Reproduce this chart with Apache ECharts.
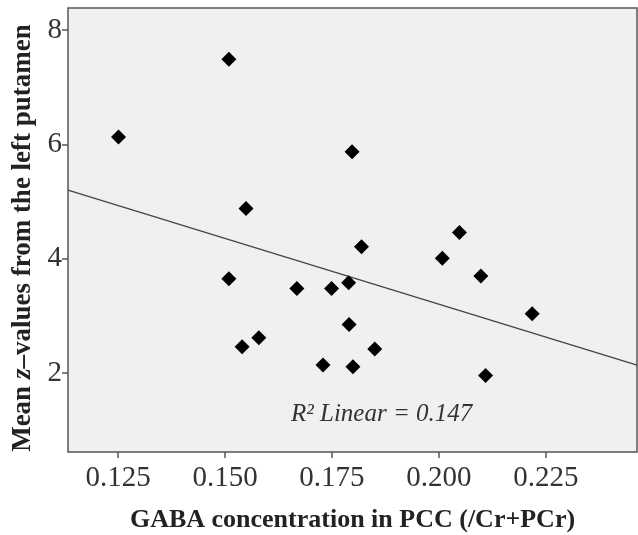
<!DOCTYPE html>
<html>
<head>
<meta charset="utf-8">
<script src="https://cdn.jsdelivr.net/npm/echarts@6/dist/echarts.min.js"></script>
<style>
  html, body { margin: 0; padding: 0; background: #fff; }
  #chart { width: 638px; height: 535px; }
</style>
</head>
<body>
<div id="chart"></div>
<script>
// GABA concentration (x) vs mean z-value (y)
const gaba = [0.1251, 0.1509, 0.1797, 0.1549, 0.1819, 0.2048, 0.2008, 0.2098, 0.1509, 0.1668,
              0.1749, 0.1789, 0.2218, 0.1790, 0.1540, 0.1579, 0.1850, 0.1729, 0.1799, 0.2109]
const zVals = [6.13, 7.49, 5.87, 4.88, 4.21, 4.46, 4.01, 3.70, 3.65, 3.48,
               3.48, 3.58, 3.04, 2.85, 2.46, 2.62, 2.42, 2.14, 2.11, 1.96]

// fit line end points (at the axis limits)
const fitX = [0.1133, 0.2463]
const fitY = [5.20, 2.14]

const xTicks = [0.125, 0.150, 0.175, 0.200, 0.225]
const yTicks = [2, 4, 6, 8]

const serif = '"Liberation Serif", "DejaVu Serif", serif'

const chart = echarts.init(document.getElementById('chart'))

chart.setOption({
  animation: false,
  grid: {
    left: 68, top: 8, right: 1, bottom: 83,
    outerBoundsMode: 'none',
    show: true,
    backgroundColor: '#f0f0f0',
    borderColor: '#555',
    borderWidth: 1.5
  },
  xAxis: {
    type: 'value',
    min: fitX[0],
    max: fitX[1],
    splitLine: { show: false },
    axisLine: { show: false },
    axisTick: { show: true, length: 6, lineStyle: { color: '#555', width: 1.5 }, customValues: xTicks },
    axisLabel: {
      customValues: xTicks,
      formatter: v => v.toFixed(3),
      color: '#333', fontFamily: serif, fontSize: 29, margin: 12
    },
    name: 'GABA concentration in PCC (/Cr+PCr)',
    nameLocation: 'middle',
    nameGap: 55,
    nameTextStyle: { color: '#222', fontFamily: serif, fontSize: 26, fontWeight: 'bold' }
  },
  yAxis: {
    type: 'value',
    min: 0.62,
    max: 8.385,
    splitLine: { show: false },
    axisLine: { show: false },
    axisTick: { show: true, length: 6, lineStyle: { color: '#555', width: 1.5 }, customValues: yTicks },
    axisLabel: {
      customValues: yTicks,
      color: '#333', fontFamily: serif, fontSize: 29, margin: 6
    },
    name: '{b|Mean }{i|z}{b|–values from the left putamen}',
    nameLocation: 'middle',
    nameGap: 31,
    nameRotate: 90,
    nameTextStyle: {
      padding: [0, 16, 0, 0],
      rich: {
        b: { color: '#222', fontFamily: serif, fontSize: 27, fontWeight: 'bold' },
        i: { color: '#222', fontFamily: serif, fontSize: 27, fontWeight: 'bold', fontStyle: 'italic' }
      }
    }
  },
  graphic: [{
    type: 'text',
    left: 291,
    top: 402,
    style: {
      text: 'R² Linear = 0.147',
      fill: '#333',
      font: 'italic 25px ' + serif
    }
  }],
  series: [
    {
      type: 'line',
      data: fitX.map((x, i) => [x, fitY[i]]),
      symbol: 'none',
      lineStyle: { color: '#444', width: 1.3 },
      z: 2
    },
    {
      type: 'scatter',
      data: gaba.map((x, i) => [x, zVals[i]]),
      symbol: 'diamond',
      symbolSize: 15,
      itemStyle: { color: '#000', opacity: 1 },
      z: 3
    }
  ]
})
</script>
</body>
</html>
